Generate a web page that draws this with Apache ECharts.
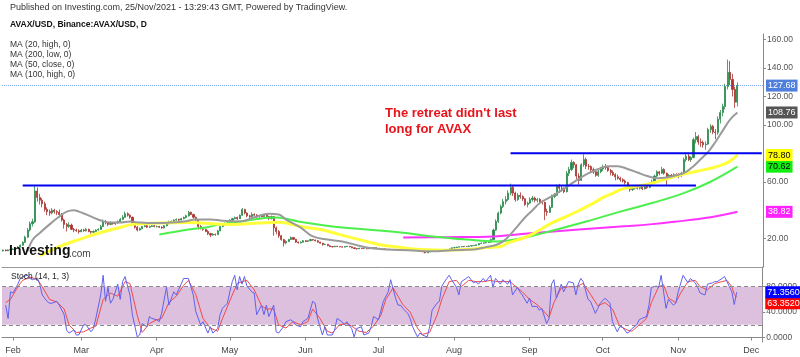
<!DOCTYPE html>
<html><head><meta charset="utf-8">
<script src="https://cdn.jsdelivr.net/npm/echarts@6/dist/echarts.min.js"></script>
<style>html,body{margin:0;padding:0;background:#fff}#c{width:800px;height:357px}</style>
</head><body><div id="c"></div>
<script>
// ---- data (daily candles [open, close, low, high]) ----
const candlesJan = [[11.3,11.9,11.0,12.2],[11.9,11.4,11.0,12.3],[11.4,12.0,11.2,12.4],[12.0,12.3,11.7,12.8]];
const candlesFeb = [[12.3,12.6,12.0,13.1],[12.6,13.2,12.3,13.6],[13.2,14.1,12.9,14.5],[14.1,15.3,13.8,15.9],[15.3,17.4,15.0,18.0],[17.4,21.0,17.0,22.0],[21.0,26.0,20.5,27.5],[26.0,30.5,25.0,32.0],[30.5,31.8,28.5,34.0],[31.8,53.5,31.0,57.5],[53.5,49.0,46.0,56.0],[49.0,47.0,44.0,51.5],[47.0,44.5,42.0,48.5],[44.5,40.5,39.0,46.0],[40.5,39.0,36.5,42.0],[39.0,38.0,36.0,40.5],[38.0,40.0,37.0,41.5],[40.0,39.0,37.5,41.0],[39.0,38.5,36.5,40.0],[38.5,37.0,35.0,40.5],[37.0,33.0,32.0,38.0],[33.0,30.0,27.0,34.0],[30.0,28.5,25.0,31.0],[28.5,29.5,27.5,31.5],[29.5,26.5,26.0,30.5],[26.5,26.0,24.5,27.5],[26.0,25.5,24.8,27.0],[25.5,24.8,23.5,26.5]];
const candlesMar = [[24.8,26.0,24.5,26.8],[26.0,25.5,24.8,26.8],[25.5,26.5,25.0,27.5],[26.5,25.0,24.5,27.0],[25.0,24.5,23.5,25.5],[24.5,25.0,24.0,25.8],[25.0,26.0,24.6,26.5],[26.0,26.5,25.5,27.2],[26.5,28.5,26.0,29.5],[28.5,32.0,28.0,33.5],[32.0,31.0,30.0,33.0],[31.0,30.0,28.8,31.8],[30.0,31.0,29.5,32.0],[31.0,30.5,29.8,31.8],[30.5,31.0,29.5,31.8],[31.0,32.0,30.5,32.8],[32.0,33.5,31.5,34.5],[33.5,35.0,33.0,36.5],[35.0,37.5,34.5,39.0],[37.5,36.5,35.5,38.5],[36.5,35.0,34.0,37.0],[35.0,31.0,30.5,35.5],[31.0,28.0,27.0,31.5],[28.0,26.0,25.0,28.8],[26.0,27.0,25.5,27.8],[27.0,28.5,26.5,29.0],[28.5,29.0,28.0,29.8],[29.0,28.0,27.5,29.5],[28.0,28.5,27.5,29.2],[28.5,29.0,28.2,29.6],[29.0,28.5,28.0,29.6]];
const candlesApr = [[28.5,28.5,27.8,29.2],[28.5,28.0,27.5,29.0],[28.0,27.5,27.0,28.6],[27.5,29.0,27.2,29.5],[29.0,30.5,28.6,31.0],[30.5,32.0,30.0,32.6],[32.0,31.5,30.6,32.8],[31.5,33.0,31.0,33.6],[33.0,33.5,32.5,34.2],[33.5,33.0,32.4,34.0],[33.0,34.0,32.8,34.6],[34.0,34.8,33.5,35.5],[34.8,36.0,34.2,36.8],[36.0,38.5,35.5,39.5],[38.5,37.0,36.5,39.0],[37.0,35.0,34.0,37.5],[35.0,33.0,32.5,35.5],[33.0,28.5,26.5,33.5],[28.5,27.0,26.5,29.5],[27.0,26.5,25.5,27.8],[26.5,25.0,24.5,27.0],[25.0,23.5,22.5,26.0],[23.5,22.5,21.0,24.0],[22.5,23.0,22.0,23.8],[23.0,22.8,22.0,23.5],[22.8,25.5,22.5,26.0],[25.5,28.5,25.2,29.0],[28.5,29.5,28.0,30.5],[29.5,30.5,29.0,31.2],[30.5,32.0,30.0,32.6]];
const candlesMay = [[32.0,33.0,31.5,33.6],[33.0,34.0,32.5,34.6],[34.0,34.8,33.5,35.5],[34.8,34.0,33.0,35.5],[34.0,36.5,33.8,37.0],[36.5,40.5,36.0,41.5],[40.5,38.0,37.0,41.0],[38.0,36.0,35.0,38.5],[36.0,35.5,34.5,36.8],[35.5,37.0,35.0,38.5],[37.0,36.5,35.8,37.8],[36.5,35.5,34.0,37.2],[35.5,36.0,34.5,36.8],[36.0,35.5,34.8,36.6],[35.5,36.5,35.0,37.0],[36.5,35.5,34.5,37.0],[35.5,34.0,33.0,36.0],[34.0,35.5,33.5,36.2],[35.5,27.5,22.0,36.0],[27.5,25.0,23.0,28.5],[25.0,22.0,20.5,26.0],[22.0,19.3,18.5,22.5],[19.3,17.0,14.4,19.8],[17.0,18.0,16.0,18.8],[18.0,19.3,17.5,19.8],[19.3,20.7,19.0,21.5],[20.7,19.5,19.0,21.0],[19.5,17.5,17.0,19.8],[17.5,17.0,16.5,18.0],[17.0,17.5,16.5,18.0],[17.5,18.5,17.2,19.0]];
const candlesJun = [[18.5,18.0,17.5,18.8],[18.0,18.5,17.8,18.9],[18.5,19.3,18.2,19.8],[19.3,19.0,18.5,19.6],[19.0,18.5,18.0,19.3],[18.5,17.5,17.2,18.8],[17.5,16.8,16.5,17.8],[16.8,15.8,15.0,17.0],[15.8,16.0,15.4,16.5],[16.0,15.0,14.6,16.2],[15.0,14.4,14.0,15.2],[14.4,14.2,13.8,14.7],[14.2,14.6,14.0,14.9],[14.6,14.4,14.1,14.9],[14.4,14.2,13.9,14.6],[14.2,14.0,13.6,14.4],[14.0,14.4,13.8,14.7],[14.4,14.6,14.1,14.9],[14.6,14.2,13.9,14.8],[14.2,13.5,13.2,14.4],[13.5,13.0,12.6,13.7],[13.0,12.8,12.2,13.2],[12.8,13.2,12.6,13.5],[13.2,13.0,12.7,13.4],[13.0,13.0,12.6,13.3],[13.0,12.8,12.5,13.2],[12.8,13.3,12.6,13.5],[13.3,13.5,13.1,13.8],[13.5,13.6,13.2,13.9],[13.6,13.2,12.9,13.8]];
const candlesJul = [[13.2,13.0,12.7,13.4],[13.0,12.8,12.5,13.2],[12.8,12.6,12.4,13.0],[12.6,12.5,12.2,12.9],[12.5,12.3,12.0,12.7],[12.3,12.4,12.1,12.7],[12.4,12.3,12.0,12.6],[12.3,12.2,11.9,12.5],[12.2,12.3,12.0,12.5],[12.3,12.3,12.0,12.5],[12.3,12.1,11.9,12.4],[12.1,11.9,11.6,12.3],[11.9,11.8,11.5,12.0],[11.8,11.7,11.4,11.9],[11.7,11.6,11.3,11.9],[11.6,11.5,11.2,11.8],[11.5,11.2,11.0,11.6],[11.2,11.1,10.8,11.4],[11.1,10.6,10.4,11.2],[10.6,10.0,9.7,10.8],[10.0,10.6,9.9,10.8],[10.6,11.0,10.5,11.2],[11.0,11.2,10.9,11.4],[11.2,11.4,11.0,11.6],[11.4,11.6,11.2,11.8],[11.6,11.8,11.4,12.1],[11.8,11.9,11.5,12.1],[11.9,11.8,11.6,12.1],[11.8,12.0,11.6,12.2],[12.0,12.8,11.9,13.0],[12.8,13.5,12.6,13.8]];
const candlesAug = [[13.5,13.6,13.2,13.9],[13.6,14.0,13.4,14.2],[14.0,14.2,13.8,14.5],[14.2,14.4,14.0,14.7],[14.4,14.3,14.0,14.6],[14.3,14.4,14.1,14.7],[14.4,14.8,14.2,15.1],[14.8,15.0,14.6,15.3],[15.0,15.2,14.8,15.5],[15.2,15.6,15.0,15.9],[15.6,16.5,15.4,16.8],[16.5,16.8,16.2,17.2],[16.8,17.0,16.5,17.4],[17.0,17.2,16.7,17.6],[17.2,17.5,16.9,18.0],[17.5,19.3,17.3,20.0],[19.3,26.0,19.0,27.0],[26.0,32.0,25.5,33.5],[32.0,38.0,31.0,39.0],[38.0,42.5,37.0,44.0],[42.5,46.0,41.5,48.0],[46.0,47.5,44.0,50.0],[47.5,52.0,46.5,54.0],[52.0,56.0,50.5,58.7],[56.0,52.0,50.0,57.0],[52.0,47.5,46.0,53.0],[47.5,50.5,46.5,52.0],[50.5,49.6,48.0,52.5],[49.6,48.0,46.5,50.5],[48.0,44.0,43.0,48.5],[44.0,45.0,42.0,46.0]];
const candlesSep = [[45.0,47.5,44.5,49.0],[47.5,48.5,46.0,50.0],[48.5,47.0,45.5,49.5],[47.0,47.5,45.5,48.5],[47.5,46.0,45.0,48.5],[46.0,45.5,44.0,47.0],[45.5,39.0,33.0,46.0],[39.0,38.5,36.0,41.0],[38.5,42.0,38.0,43.5],[42.0,49.6,41.5,51.0],[49.6,50.5,48.5,52.0],[50.5,56.6,50.0,58.0],[56.6,55.5,52.0,58.5],[55.5,54.5,53.0,57.0],[54.5,53.0,52.0,56.0],[53.0,66.0,52.5,67.5],[66.0,68.6,64.0,70.5],[68.6,73.5,67.5,75.6],[73.5,72.0,69.5,74.5],[72.0,64.0,62.0,72.5],[64.0,61.0,58.0,66.0],[61.0,72.0,60.5,73.0],[72.0,75.6,70.5,79.3],[75.6,71.0,69.0,77.0],[71.0,70.7,68.5,72.5],[70.7,68.5,66.0,71.5],[68.5,67.0,65.5,70.0],[67.0,64.5,63.5,68.0],[64.5,67.0,63.5,68.5],[67.0,69.0,66.0,70.5]];
const candlesOct = [[69.0,70.5,67.5,72.0],[70.5,70.0,68.5,72.5],[70.0,68.0,67.0,71.0],[68.0,66.5,64.5,69.0],[66.5,65.0,64.0,68.0],[65.0,63.5,61.0,66.0],[63.5,62.5,61.5,65.0],[62.5,61.5,60.0,63.5],[61.5,60.5,59.5,62.5],[60.5,59.4,58.0,61.5],[59.4,57.0,56.0,60.0],[57.0,54.5,53.0,57.5],[54.5,55.5,53.5,56.5],[55.5,56.5,54.5,57.5],[56.5,55.5,54.5,57.5],[55.5,56.0,54.5,57.0],[56.0,55.0,54.0,56.8],[55.0,56.5,54.5,57.5],[56.5,56.0,55.0,57.5],[56.0,58.5,55.5,59.5],[58.5,60.0,57.5,61.5],[60.0,64.0,59.5,65.0],[64.0,67.0,63.0,68.0],[67.0,66.0,64.5,67.5],[66.0,68.6,65.5,70.5],[68.6,66.0,65.0,69.5],[66.0,63.7,57.0,66.5],[63.7,64.5,62.5,65.5],[64.5,63.7,62.5,65.5],[63.7,65.0,63.0,66.0],[65.0,64.5,63.5,66.0]];
const candlesNov = [[64.5,64.0,62.5,66.0],[64.0,66.0,63.5,67.0],[66.0,75.6,65.5,77.0],[75.6,78.0,74.0,80.5],[78.0,75.5,74.5,79.5],[75.5,77.0,74.0,78.0],[77.0,89.6,76.5,91.0],[89.6,91.8,87.0,95.0],[91.8,88.0,86.0,93.0],[88.0,87.6,84.5,90.5],[87.6,86.0,84.0,89.0],[86.0,86.5,82.5,88.5],[86.5,96.7,86.0,98.0],[96.7,99.0,94.5,100.5],[99.0,95.0,93.5,100.0],[95.0,94.6,90.0,97.0],[94.6,104.0,93.0,106.0],[104.0,108.7,101.0,110.5],[108.7,113.0,106.0,115.0],[113.0,127.0,111.0,129.0],[127.0,137.0,125.0,146.0],[137.0,132.0,128.0,145.0],[132.0,125.0,120.0,136.0],[125.0,116.0,112.0,127.0],[116.0,127.68,113.0,130.0]];

// moving averages: [day index from 28 Jan 2021, value]
const ma20High = [[10,11],[12,19],[15,24],[19,30],[23,35.5],[26,39],[29,40],[31,39],[34,37],[37,34.8],[40,32.7],[44,31.3],[48,31.3],[52,32],[55,31.5],[59,31],[66,31],[74,32],[79,33.5],[85,33.5],[90,32.5],[97,32],[103,35],[109,37.5],[113,37],[116,33.4],[122,27.7],[127,21.5],[133,19.3],[139,18],[149,13.7],[157,12.3],[166,11.8],[176,11.1],[184,11.8],[193,12.3],[198,14],[202,15.5],[205,18],[208,23],[211,29],[214,35],[217,40],[220,45],[224,49],[228,53],[232,57.5],[236,62],[240,66],[244,69],[248,71],[252,71],[256,69],[260,66.5],[264,64],[268,62.5],[272,63],[276,64.5],[280,67],[283,71],[286,76],[289,81],[292,88],[295,96],[298,103.8],[301,108.76]];
const ma50Close = [[15,8],[23,14.4],[31,19.3],[40,24.3],[48,27.8],[53,30],[64,31],[76,31.3],[81,31],[93,30],[105,31],[113,31.5],[116,31],[122,28.5],[130,26.4],[138,22.8],[146,19.3],[154,15.8],[163,13.7],[171,12.3],[182,11.8],[190,12.3],[198,13.7],[204,14.4],[207,17],[215,21.5],[225,31],[234,38],[242,45],[246,49],[250,52],[254,55],[258,56.3],[262,57.5],[266,59],[270,61],[274,63],[278,65],[282,66.5],[286,68],[290,69.5],[294,71.5],[298,74.5],[301,78.8]];
const ma100High = [[64,22.8],[76,26.4],[83,27.8],[89,30],[97,32],[105,34],[112,34.8],[116,34],[121,32],[135,28.5],[149,26.4],[163,24.3],[176,21.5],[190,19.3],[202,18],[213,20.5],[225,25.5],[239,32],[253,39],[266,45],[279,52],[290,60],[301,70.62]];
const ma200Low = [[164,20.7],[181,21],[201,21.5],[215,23.5],[236,26.4],[256,28.8],[265,30],[275,31.8],[290,35],[301,38.82]];

// horizontal support / resistance lines
const supportLine = [[8,57.3],[284,57.3]];
const resistLine = [[208,80],[311,80]];

// stochastic (14,1,3): %K and %D
const stochK = [[1,51],[2,30],[3,72],[4,70],[6,84],[7,93],[8,96],[10,98],[11,93],[12,91],[14,93],[15,84],[16,67],[18,57],[19,54],[20,54],[22,57],[23,51],[25,36],[26,12],[27,7],[29,12],[30,4],[31,4],[33,20],[34,20],[36,9],[37,14],[38,30],[40,67],[41,98],[42,57],[43,79],[44,54],[45,60],[47,84],[48,60],[49,88],[50,96],[52,67],[53,36],[55,1],[56,4],[57,22],[59,17],[60,33],[61,30],[63,28],[64,25],[65,38],[67,79],[68,51],[70,72],[71,67],[73,84],[74,93],[76,93],[78,67],[79,41],[81,20],[82,25],[84,7],[85,17],[86,7],[88,14],[89,36],[90,46],[92,54],[93,72],[94,88],[95,98],[96,75],[97,96],[98,84],[99,96],[100,81],[102,72],[103,70],[104,36],[106,51],[107,36],[108,51],[109,33],[111,51],[112,9],[113,7],[115,17],[116,25],[118,28],[119,25],[120,20],[122,17],[123,25],[125,30],[127,57],[128,54],[129,30],[131,4],[132,17],[133,4],[135,4],[136,12],[137,30],[139,25],[140,20],[141,25],[143,14],[144,1],[145,14],[147,17],[148,4],[150,7],[151,17],[152,33],[154,28],[156,57],[158,72],[159,91],[161,62],[162,51],[163,51],[164,46],[166,38],[167,30],[168,17],[170,1],[171,7],[172,4],[174,1],[175,17],[176,43],[178,54],[179,57],[180,81],[182,93],[183,98],[184,91],[186,79],[187,67],[188,88],[190,93],[191,96],[193,86],[194,88],[195,84],[197,93],[198,88],[200,98],[201,79],[202,93],[204,84],[205,91],[207,84],[208,91],[209,67],[211,79],[212,72],[213,67],[215,54],[216,62],[217,49],[219,49],[220,43],[221,46],[223,22],[224,30],[225,84],[226,91],[227,62],[229,84],[230,72],[232,88],[234,86],[235,67],[236,84],[237,93],[238,88],[240,60],[241,57],[243,38],[244,46],[245,54],[247,62],[249,54],[250,25],[252,9],[253,17],[254,17],[256,7],[257,9],[258,14],[260,20],[261,28],[262,30],[264,33],[265,51],[266,79],[268,81],[269,79],[270,98],[271,72],[272,46],[273,60],[275,51],[276,54],[277,72],[279,98],[281,86],[282,93],[284,86],[285,79],[286,70],[288,67],[289,84],[291,86],[292,88],[293,88],[295,93],[296,96],[297,88],[298,80],[299,72],[300,52],[301,71.356]];
const stochD = [[1,55],[3,60],[6,80],[8,90],[11,95],[14,92],[16,80],[19,60],[22,56],[25,45],[27,20],[30,8],[33,9],[36,15],[38,18],[41,60],[44,70],[47,65],[49,80],[50,88],[52,85],[55,35],[57,8],[60,22],[63,28],[65,30],[68,55],[71,65],[74,82],[76,90],[79,68],[82,30],[85,15],[88,10],[90,30],[93,58],[96,85],[98,88],[100,90],[103,75],[106,50],[108,45],[111,45],[113,20],[116,15],[119,25],[122,20],[125,25],[127,45],[130,30],[133,10],[135,7],[138,20],[141,22],[143,18],[146,10],[149,8],[152,18],[155,35],[157,60],[160,78],[162,65],[164,52],[167,40],[170,15],[172,5],[175,8],[178,35],[180,60],[183,88],[186,90],[188,80],[191,90],[194,88],[197,88],[200,90],[202,88],[205,88],[208,88],[211,78],[213,72],[216,60],[219,52],[221,45],[224,32],[226,55],[229,78],[232,80],[235,80],[238,85],[241,68],[244,50],[247,55],[250,45],[253,18],[256,12],[258,10],[261,20],[264,30],[266,55],[269,80],[271,83],[273,62],[276,55],[278,70],[281,88],[284,90],[286,80],[289,75],[292,85],[295,88],[297,90],[299,80],[300,68],[301,63.352]];

const priceTicks = [20, 60, 100, 120, 140, 160];
const stochTicks = [0, 40, 80];
const stochBand = [20, 80];
const monthNames = ['Jan','Feb','Mar','Apr','May','Jun','Jul','Aug','Sep','Oct','Nov','Dec'];

// ---- build ----
const cats = [];
for (let t = Date.UTC(2021,0,28); t <= Date.UTC(2021,11,5); t += 86400000) {
  cats.push(new Date(t).toISOString().slice(0,10));
}
const candles = [].concat(candlesJan,candlesFeb,candlesMar,candlesApr,candlesMay,candlesJun,candlesJul,candlesAug,candlesSep,candlesOct,candlesNov);
const lastPrice = candles[candles.length-1][1];
const last = a => a[a.length-1][1];
const FONT = 'Liberation Sans, Arial, sans-serif';

function badgeItem(val, bg, fg, digits, dy){
  return {
    yAxis: val,
    lineStyle: {color: 'rgba(0,0,0,0)', width: 0},
    label: {show:true, position:'end', distance:3, formatter: val.toFixed(digits), offset:[0, dy || 0],
      backgroundColor: bg, color: fg, fontSize: 9, fontFamily: FONT, padding:[2,2,1,2]}
  };
}
function badge(val, bg, fg, digits){
  return {silent:true, symbol:['none','none'], animation:false, data:[badgeItem(val,bg,fg,digits)]};
}

const chart = echarts.init(document.getElementById('c'), null, {renderer:'canvas'});
const firstOfMonth = (i, v) => v.slice(8) === '01';

chart.setOption({
  animation: false,
  backgroundColor: '#fff',
  textStyle: {fontFamily: FONT},
  grid: [
    {left: 2, right: 37, top: 34, height: 233},
    {left: 2, right: 37, top: 267, height: 75}
  ],
  xAxis: [
    {type:'category', gridIndex:0, data:cats, boundaryGap:true,
     axisLine:{lineStyle:{color:'#999'}}, axisTick:{show:false}, axisLabel:{show:false}, splitLine:{show:false}},
    {type:'category', gridIndex:1, data:cats, boundaryGap:true,
     axisLine:{lineStyle:{color:'#888'}},
     axisTick:{show:true, interval:firstOfMonth, alignWithLabel:true, length:3, lineStyle:{color:'#888'}},
     axisLabel:{interval:firstOfMonth, formatter: v => monthNames[+v.slice(5,7)-1], color:'#444', fontSize:9, margin:4},
     splitLine:{show:false}}
  ],
  yAxis: [
    {type:'value', gridIndex:0, position:'right', min:0, max:164,
     axisLine:{show:true, lineStyle:{color:'#888'}},
     axisTick:{show:true, length:3, customValues: priceTicks, lineStyle:{color:'#888'}},
     axisLabel:{customValues: priceTicks, formatter: v => v.toFixed(2), color:'#555', fontSize:8.5, margin:4},
     splitLine:{show:false}},
    {type:'value', gridIndex:1, position:'right', min:-7, max:111,
     axisLine:{show:true, lineStyle:{color:'#888'}},
     axisTick:{show:true, length:3, customValues: stochTicks, lineStyle:{color:'#888'}},
     axisLabel:{customValues: stochTicks, formatter: v => v.toFixed(4), color:'#555', fontSize:8.5, margin:4},
     splitLine:{show:false}}
  ],
  series: [
    {type:'candlestick', name:'AVAX/USD', xAxisIndex:0, yAxisIndex:0, data:candles, barWidth:1.6, z:2,
     itemStyle:{color:'#1f8a43', color0:'#b0302b', borderColor:'#2a8a4a', borderColor0:'#a8322e', borderWidth:0.8},
     markLine:{silent:true, symbol:['none','none'], z:1,
       lineStyle:{color:'#7ea6ea', type:'dotted', width:1},
       label:{show:true, position:'end', distance:3, formatter: lastPrice.toFixed(2),
         backgroundColor:'#4f7fdc', color:'#fff', fontSize:9, fontFamily:FONT, padding:[2,2,1,2]},
       data:[{yAxis: lastPrice}]}},
    {type:'line', name:'MA200', xAxisIndex:0, yAxisIndex:0, data:ma200Low, smooth:0.4, showSymbol:false, z:3,
     lineStyle:{color:'#ff33ff', width:2}, markLine: badge(last(ma200Low), '#ff22ff', '#fff', 2)},
    {type:'line', name:'MA100', xAxisIndex:0, yAxisIndex:0, data:ma100High, smooth:0.4, showSymbol:false, z:3,
     lineStyle:{color:'#4cf04c', width:2}, markLine: badge(last(ma100High), '#11ee11', '#000', 2)},
    {type:'line', name:'MA50', xAxisIndex:0, yAxisIndex:0, data:ma50Close, smooth:0.4, showSymbol:false, z:3,
     lineStyle:{color:'#ffff3a', width:3}, markLine: badge(last(ma50Close), '#ffff00', '#000', 2)},
    {type:'line', name:'MA20', xAxisIndex:0, yAxisIndex:0, data:ma20High, smooth:0.4, showSymbol:false, z:3,
     lineStyle:{color:'#9a9a9a', width:2}, markLine: badge(last(ma20High), '#555555', '#fff', 2)},
    {type:'line', name:'support', xAxisIndex:0, yAxisIndex:0, data:supportLine, showSymbol:false, z:4,
     lineStyle:{color:'#0000ee', width:2}},
    {type:'line', name:'resistance', xAxisIndex:0, yAxisIndex:0, data:resistLine, showSymbol:false, z:4,
     lineStyle:{color:'#0000ee', width:2}},
    {type:'line', name:'%D', xAxisIndex:1, yAxisIndex:1, data:stochD, showSymbol:false, z:3,
     lineStyle:{color:'#f24a4a', width:1},
     markArea:{silent:true, itemStyle:{color:'#dcc0dd'}, data:[[{yAxis:stochBand[0]},{yAxis:stochBand[1]}]]},
     markLine:{silent:true, symbol:['none','none'], lineStyle:{color:'#888', type:[4,3], width:1},
       label:{show:false},
       data:[{yAxis:stochBand[0]},{yAxis:stochBand[1]}, badgeItem(last(stochD), '#ff0000', '#fff', 4, 6)]}},
    {type:'line', name:'%K', xAxisIndex:1, yAxisIndex:1, data:stochK, showSymbol:false, z:4,
     lineStyle:{color:'#6060f0', width:1}, markLine: badge(last(stochK), '#0000ff', '#fff', 4)}
  ],
  graphic: [
    {type:'text', left:10, top:3, style:{text:'Published on Investing.com, 25/Nov/2021 - 13:29:43 GMT, Powered by TradingView.', fill:'#333', font:'9px '+FONT}},
    {type:'text', left:10, top:20, style:{text:'AVAX/USD, Binance:AVAX/USD, D', fill:'#111', font:'bold 8.5px '+FONT}},
    {type:'text', left:10, top:40, style:{text:'MA (20, high, 0)', fill:'#333', font:'8.5px '+FONT}},
    {type:'text', left:10, top:50, style:{text:'MA (200, low, 0)', fill:'#333', font:'8.5px '+FONT}},
    {type:'text', left:10, top:60, style:{text:'MA (50, close, 0)', fill:'#333', font:'8.5px '+FONT}},
    {type:'text', left:10, top:70, style:{text:'MA (100, high, 0)', fill:'#333', font:'8.5px '+FONT}},
    {type:'text', left:385, top:105, style:{text:"The retreat didn't last\nlong for AVAX", fill:'#e8141c', font:'bold 13px '+FONT, lineHeight:16}},
    {type:'text', left:9, top:244, z:10, style:{text:'Investing', fill:'#111', font:'bold 14px '+FONT}},
    {type:'text', left:69, top:249, z:10, style:{text:'.com', fill:'#444', font:'10px '+FONT}},
    {type:'text', left:11, top:272, z:10, style:{text:'Stoch (14, 1, 3)', fill:'#222', font:'8.5px '+FONT}}
  ]
});
</script></body></html>
